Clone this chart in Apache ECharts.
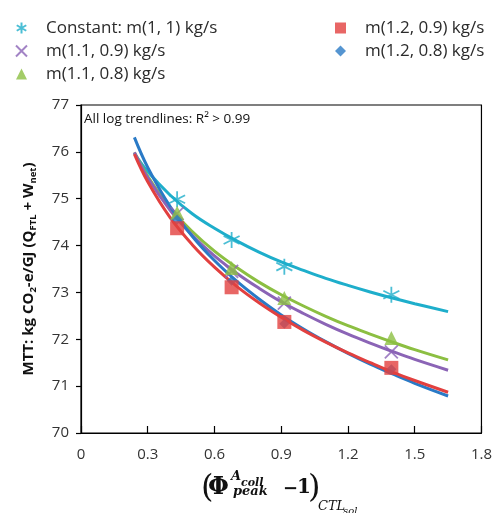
<!DOCTYPE html>
<html>
<head>
<meta charset="utf-8">
<script src="https://cdn.jsdelivr.net/npm/echarts@6/dist/echarts.min.js"></script>
<style>
  html, body { margin: 0; padding: 0; background: #fff; }
  #chart { width: 495px; height: 513px; }
</style>
</head>
<body>
<div id="chart"></div>
<script>
// Normalised peak collector-area ratio (x) at the simulated cases
const caseX = [0.432, 0.677, 0.914, 1.395];

// MTT emissions (kg CO2-e/GJ) per mass-flow configuration
const constM11 = [74.99, 74.12, 73.55, 72.95];
const m11_09 = [74.68, 73.45, 72.77, 71.73];
const m11_08 = [74.70, 73.52, 72.88, 72.03];
const m12_09 = [74.37, 73.11, 72.37, 71.39];
const m12_08 = [74.55, 73.25, 72.33, 71.36];

// Logarithmic trendlines, sampled along x
const trendX = [0.24, 0.3, 0.4, 0.5, 0.6, 0.7, 0.8, 0.9, 1.0, 1.1, 1.2, 1.3, 1.4, 1.5, 1.65];
const trendConstM11 = [75.97, 75.58, 75.08, 74.68, 74.37, 74.10, 73.86, 73.65, 73.47, 73.30, 73.15, 73.01, 72.88, 72.76, 72.59];
const trendM11_08 = [75.99, 75.48, 74.81, 74.30, 73.88, 73.53, 73.22, 72.95, 72.71, 72.49, 72.29, 72.11, 71.94, 71.78, 71.56];
const trendM11_09 = [75.99, 75.45, 74.76, 74.22, 73.78, 73.41, 73.09, 72.80, 72.55, 72.32, 72.11, 71.92, 71.74, 71.57, 71.34];
const trendM12_09 = [75.95, 75.36, 74.60, 74.02, 73.54, 73.13, 72.78, 72.47, 72.19, 71.94, 71.71, 71.50, 71.30, 71.12, 70.87];
const trendM12_08 = [76.31, 75.67, 74.84, 74.20, 73.68, 73.24, 72.86, 72.52, 72.22, 71.95, 71.70, 71.47, 71.26, 71.06, 70.79];

const seriesNames = [
  'Constant: m(1, 1) kg/s',
  'm(1.1, 0.9) kg/s',
  'm(1.1, 0.8) kg/s',
  'm(1.2, 0.9) kg/s',
  'm(1.2, 0.8) kg/s'
];

const COL = {
  cyan: '#1eaecb',
  purple: '#8b64b6',
  green: '#8cbf42',
  red: '#e2403f',
  blue: '#2a7ac6'
};

const FONT = '"Open Sans", "Noto Sans", sans-serif';
const SERIF = '"DejaVu Serif", serif';
const STAR = 'path://M5,0L5,10M0.67,2.5L9.33,7.5M0.67,7.5L9.33,2.5';
const CROSS = 'path://M0,0L10,10M10,0L0,10';

function pairs(xs, ys) { return xs.map((x, i) => [x, ys[i]]); }

function trend(name, ys, color, z) {
  return {
    name: name, type: 'line', data: pairs(trendX, ys),
    smooth: 0.4, showSymbol: false, symbol: 'none', silent: true,
    lineStyle: { color: color, width: 3 }, z: z
  };
}

function marks(name, ys, color, symbol, size, stroked) {
  return {
    name: name, type: 'scatter', data: pairs(caseX, ys),
    symbol: symbol, symbolSize: size, z: 10,
    itemStyle: stroked
      ? { color: 'rgba(0,0,0,0)', borderColor: color, borderWidth: 1.8 }
      : { color: color }
  };
}

function mathText(x, y, text, font) {
  return { type: 'text', x: x, y: y, style: { text: text, font: font, fill: '#111', verticalAlign: 'middle' } };
}

const chart = echarts.init(document.getElementById('chart'), null, { renderer: 'canvas' });

const legendText = { fontFamily: FONT, fontSize: 17, lineHeight: 18, color: '#2b2b2b', padding: [0, 0, 0, 14] };

chart.setOption({
  animation: false,
  backgroundColor: '#fff',
  grid: {
    left: 81, right: 10, top: 105, bottom: 80,
    show: true, borderColor: '#000', borderWidth: 1.2, backgroundColor: 'transparent'
  },
  legend: [
    {
      data: seriesNames.slice(0, 3), orient: 'vertical', left: 10, top: 14,
      itemWidth: 11, itemHeight: 11, itemGap: 5, textStyle: legendText,
      selectedMode: false
    },
    {
      data: seriesNames.slice(3), orient: 'vertical', left: 330, top: 14,
      itemWidth: 11, itemHeight: 11, itemGap: 5, textStyle: legendText,
      selectedMode: false
    }
  ],
  xAxis: {
    type: 'value', min: 0, max: 1.8, interval: 0.3,
    axisLine: { lineStyle: { color: '#000', width: 1.2 } },
    axisTick: { inside: true, length: 7, lineStyle: { color: '#000', width: 1.2 } },
    axisLabel: { fontFamily: FONT, fontSize: 15, color: '#333', margin: 14 },
    splitLine: { show: false }
  },
  yAxis: {
    type: 'value', min: 70, max: 77, interval: 1,
    axisLine: { lineStyle: { color: '#000', width: 1.2 } },
    axisTick: { inside: false, length: 5, lineStyle: { color: '#000', width: 1.2 } },
    axisLabel: { fontFamily: FONT, fontSize: 15, color: '#333', margin: 12 },
    splitLine: { show: false },
    name: '{m|MTT: kg CO}{s|2}{m|-e/GJ (Q}{s|FTL}{m| + W}{s|net}{m|)}',
    nameLocation: 'middle', nameRotate: 90, nameGap: 43,
    nameTextStyle: {
      rich: {
        m: { fontFamily: FONT, fontSize: 15, fontWeight: 'bold', color: '#111' },
        s: { fontFamily: FONT, fontSize: 9.5, fontWeight: 'bold', color: '#111', padding: [9, 0, 0, 0] }
      }
    }
  },
  graphic: [
    {
      type: 'text', left: 84, top: 112,
      style: { text: 'All log trendlines: R\u00B2 > 0.99', font: '13.5px ' + FONT, fill: '#111' }
    },
    // axis title: (Φ_peak^{A_coll} − 1)_{CTL_sol}
    mathText(201, 489, '(', '32px ' + SERIF),
    mathText(208, 488, '\u03A6', 'bold 24px ' + SERIF),
    mathText(231, 477, 'A', 'italic bold 13px ' + SERIF),
    mathText(241, 483, 'coll', 'italic bold 11px ' + SERIF),
    mathText(233, 492, 'peak', 'italic bold 13px ' + SERIF),
    mathText(283, 489, '\u2212', 'bold 18px ' + SERIF),
    mathText(297, 488, '1', 'bold 20px ' + SERIF),
    mathText(308, 489, ')', '32px ' + SERIF),
    mathText(318, 507, 'CTL', 'italic 13px ' + SERIF),
    mathText(343, 511, 'sol', 'italic 10px ' + SERIF)
  ],
  series: [
    trend('trend-c', trendConstM11, COL.cyan, 3),
    trend('trend-g', trendM11_08, COL.green, 3),
    trend('trend-p', trendM11_09, COL.purple, 3),
    trend('trend-b', trendM12_08, COL.blue, 3),
    trend('trend-r', trendM12_09, COL.red, 4),
    marks(seriesNames[0], constM11, COL.cyan, STAR, 16, true),
    marks(seriesNames[1], m11_09, COL.purple, CROSS, 13, true),
    marks(seriesNames[2], m11_08, COL.green, 'triangle', 14, false),
    marks(seriesNames[4], m12_08, COL.blue, 'diamond', 10, false),
    marks(seriesNames[3], m12_09, COL.red, 'rect', 14, false)
  ]
});
</script>
</body>
</html>
